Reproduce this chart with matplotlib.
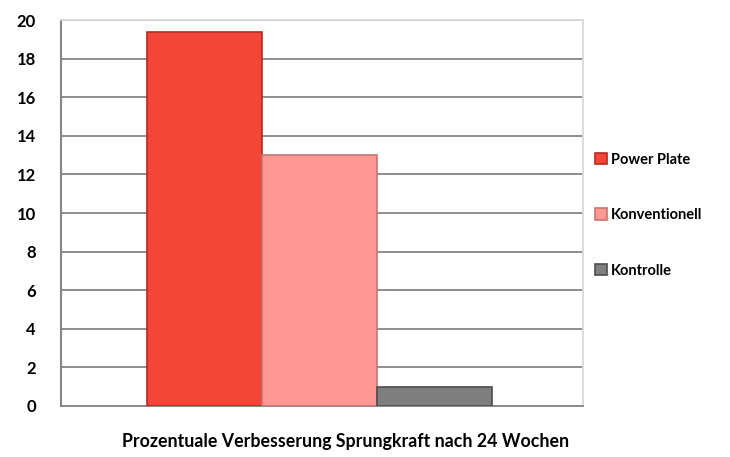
import matplotlib.pyplot as plt
import numpy as np

# data
groups = ["Power Plate", "Konventionell", "Kontrolle"]
werte = [19.4, 13.0, 1.0]
farben = ["#F44638", "#FF9893", "#7F7F7F"]
kanten = ["#B52A20", "#C87672", "#4D4D4D"]
yticks = [0, 2, 4, 6, 8, 10, 12, 14, 16, 18, 20]
titel = "Prozentuale Verbesserung Sprungkraft nach 24 Wochen"

plt.rcParams['font.family'] = ['Lato', 'DejaVu Sans']

fig = plt.figure(figsize=(7.3, 4.57), dpi=100)
ax = fig.add_axes([0.0836, 0.1116, 0.7154, 0.8446])

breite = 0.22
offsets = np.array([-0.225, -0.005, 0.215])
handles = []
for off, w, c, k, name in zip(offsets, werte, farben, kanten, groups):
    b = ax.bar(off, w, width=breite, color=c, edgecolor=k, linewidth=1.2,
               label=name, zorder=3)
    handles.append(b)

ax.set_xlim(-0.5, 0.5)
ax.set_ylim(0, 20)
ax.set_yticks(yticks)
ax.set_yticklabels([str(t) for t in yticks], fontsize=12, fontweight='bold')
ax.set_xticks([])
ax.tick_params(axis='y', length=0, pad=18)
ax.yaxis.grid(True, color="#868686", linewidth=1.3, zorder=0)
ax.set_axisbelow(True)

for s in ["top", "right"]:
    ax.spines[s].set_color("#D9D9D9")
    ax.spines[s].set_linewidth(1.3)
ax.spines["left"].set_color("#868686")
ax.spines["left"].set_linewidth(1.5)
ax.spines["bottom"].set_color("#868686")
ax.spines["bottom"].set_linewidth(1.3)

fig.text(0.474, 0.035, titel, ha='center', va='center', fontsize=12.8,
         fontweight='bold')

fig.legend(handles=handles, labels=groups, loc='upper left',
           bbox_to_anchor=(0.797, 0.695), frameon=False,
           prop={'size': 10.5, 'weight': 'bold'}, labelspacing=2.85,
           handlelength=0.8, handleheight=0.8, handletextpad=0.3)

plt.savefig("out.png", dpi=100)
